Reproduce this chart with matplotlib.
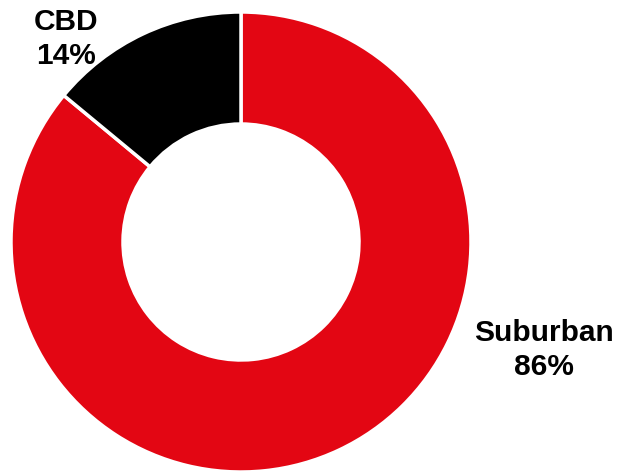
import matplotlib.pyplot as plt

labels = ['Suburban', 'CBD']
shares = [86, 14]
colors = ['#E30613', '#000000']

W, H = 618, 473
fig = plt.figure(figsize=(W / 100, H / 100), dpi=100)
ax = fig.add_axes([0, 0, 1, 1])
ax.set_xlim(0, W)
ax.set_ylim(0, H)
ax.set_aspect('equal')
ax.axis('off')

ax.pie(shares, colors=colors, startangle=90, counterclock=False,
       center=(241, H - 242), radius=230,
       wedgeprops=dict(width=112, edgecolor='white', linewidth=2.5))
ax.set_xlim(0, W)
ax.set_ylim(0, H)

font = dict(family=['Liberation Sans', 'DejaVu Sans'], fontsize=21.5,
            fontweight='bold', ha='center', va='center', linespacing=1.3)
ax.text(66, H - 39, f'{labels[1]}\n{shares[1]}%', **font)
ax.text(544, H - 350, f'{labels[0]}\n{shares[0]}%', **font)

fig.savefig('out.png', dpi=100)
